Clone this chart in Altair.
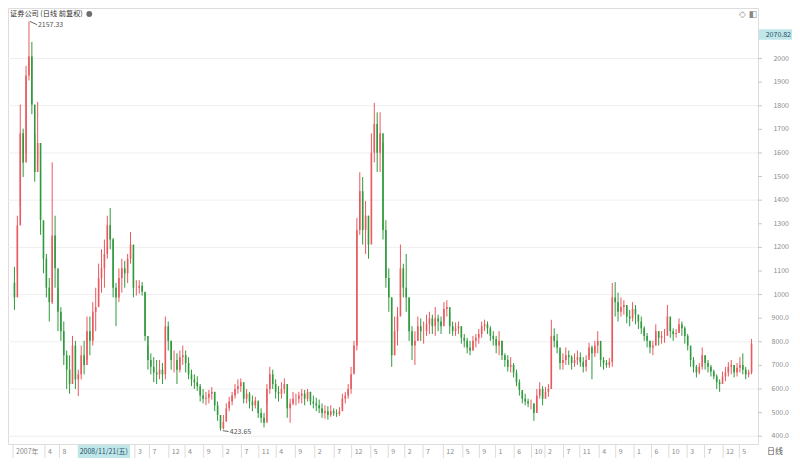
import altair as alt
import pandas as pd

title_text = "证券公司 (日线 前复权)"
open_first = 1050

high = [1117, 1334, 1805, 1703, 1969, 2157.33, 2070, 1683, 1816, 1539, 1294, 1172, 1070, 1560, 1334, 1029, 947,
        886, 763, 743, 825, 804, 682, 784, 804, 907, 907, 968, 1029, 1131, 1192, 1233, 1334, 1367, 1240, 1049, 1111,
        1152, 1143, 1172, 1265, 1172, 1061, 1061, 1053, 1008, 784, 751, 735, 723,
        723, 710, 907, 886, 804, 763, 751, 763, 784, 763, 735, 682, 662, 654, 621, 600, 588, 596, 608, 588, 547, 478,
        490, 539, 567, 588, 621, 641, 645, 612, 600, 588, 572, 567, 539, 518, 498, 621, 694, 682, 641, 612, 629, 645,
        600, 559, 588, 580, 588, 600, 596, 600, 588, 572, 563, 555, 539, 531, 527, 531, 518, 514, 523, 580, 588, 621, 694,
        804, 1325, 1518, 1498, 1397, 1334, 1683, 1812, 1772, 1772, 1642, 1315, 1111, 988, 907, 947, 1212, 1131, 1172,
        988, 866, 845, 907, 899, 886, 915, 927, 915, 947, 915, 907, 968, 976,
        927, 886, 882, 886, 866, 833, 817, 804, 825, 833, 854, 886, 894, 886, 866, 845, 825, 845, 804, 751, 743, 735,
        710, 682, 641, 588, 580, 559, 555, 539, 600, 629, 612, 608, 621, 893, 857, 833, 763, 751, 776, 763, 743, 751,
        763, 755, 735, 743, 796, 784, 804, 845, 763,
        735, 723, 731, 1049, 1053, 1008, 988, 976, 947, 935, 968, 956, 915, 907, 866, 837, 804, 804, 874, 845, 845, 854,
        956, 886, 857, 854, 899, 886, 866, 833, 751, 735, 702, 710, 776, 743, 723, 702, 682, 662, 641, 674, 694, 714,
        723, 702, 710, 735, 751, 694, 682, 812]

low = [935, 1090, 1376, 1498, 1601, 1907, 1764, 1478, 1560, 1253, 1090, 988, 886, 960, 1029, 845, 804,
       702, 600, 580, 641, 600, 570, 641, 662, 723, 743, 784, 845, 968, 1008, 1029, 1152, 1192, 988, 866, 968, 1008,
       1029, 1049, 1131, 988, 996, 1004, 996, 804, 682, 662, 629, 621,
       641, 621, 641, 763, 682, 670, 621, 670, 702, 670, 641, 612, 600, 592, 547, 539, 531, 539, 555, 506, 465, 423.65,
       429, 465, 506, 531, 559, 580, 588, 539, 539, 518, 506, 518, 478, 457, 437, 539, 580, 600, 559, 547, 559, 580,
       478, 457, 531, 531, 539, 539, 531, 547, 531, 518, 506, 498, 478, 474, 470, 482, 486, 482, 486, 518, 539, 559, 580,
       670, 763, 1253, 1212, 1172, 1152, 1253, 1560, 1519, 1519, 1233, 1029, 927, 694, 743, 784, 988, 988, 927, 804,
       723, 702, 804, 804, 792, 825, 833, 833, 825, 845, 833, 886, 907,
       833, 825, 825, 833, 792, 776, 751, 743, 763, 776, 792, 817, 845, 833, 804, 784, 751, 743, 723, 694, 674, 670,
       649, 612, 572, 539, 531, 523, 514, 465, 506, 559, 531, 559, 567, 600, 776, 751, 682, 682, 702, 702, 682, 694,
       702, 694, 670, 674, 735, 641, 735, 751, 694,
       682, 690, 690, 694, 907, 886, 907, 915, 878, 866, 886, 874, 854, 833, 804, 776, 751, 743, 784, 784, 792, 796,
       845, 817, 804, 817, 841, 825, 792, 763, 694, 670, 649, 662, 682, 682, 670, 653, 641, 600, 588, 621, 633, 653,
       662, 649, 653, 670, 662, 641, 649, 662]

close = [988, 1293, 1683, 1560, 1928, 2009, 1805, 1519, 1642, 1315, 1152, 1029, 968, 1250, 1111, 927, 845,
         743, 682, 621, 784, 641, 662, 743, 702, 845, 804, 927, 947, 1070, 1111, 1172, 1294, 1233, 1029, 988, 1070,
         1111, 1090, 1152, 1212, 1029, 1029, 1037, 1012, 825, 723, 694, 670, 662,
         682, 662, 866, 804, 723, 723, 682, 735, 743, 710, 662, 641, 629, 612, 572, 559, 563, 580, 588, 531, 490, 433,
         461, 518, 547, 572, 600, 612, 629, 559, 580, 547, 531, 551, 498, 478, 457, 600, 662, 621, 588, 580, 600, 621,
         518, 539, 559, 559, 572, 580, 559, 588, 547, 539, 531, 518, 498, 506, 490, 506, 498, 494, 506, 559, 572, 600, 662,
         784, 1274, 1438, 1274, 1334, 1212, 1601, 1723, 1601, 1683, 1274, 1070, 988, 743, 845, 907, 1111, 1029, 988,
         845, 784, 804, 866, 845, 845, 874, 899, 866, 899, 886, 866, 939, 947,
         866, 845, 857, 866, 817, 804, 776, 763, 804, 817, 833, 866, 874, 857, 825, 812, 784, 804, 743, 723, 694, 702,
         670, 629, 596, 559, 547, 539, 539, 498, 572, 600, 559, 588, 600, 825, 804, 776, 710, 723, 743, 735, 710, 723,
         735, 714, 694, 723, 776, 751, 784, 804, 723,
         710, 702, 714, 988, 968, 927, 947, 956, 907, 899, 939, 915, 886, 857, 825, 804, 776, 784, 845, 817, 825, 825,
         907, 845, 833, 837, 874, 857, 825, 784, 723, 694, 670, 694, 743, 710, 694, 674, 653, 629, 621, 653, 670, 694,
         702, 670, 690, 702, 682, 662, 670, 792]

y_ticks = [400, 500, 600, 700, 800, 900, 1000, 1100, 1200, 1300, 1400, 1500, 1600, 1700, 1800, 1900, 2000]
grid_values = [400, 600, 800, 1000, 1200, 1400, 1600, 1800, 2000]

x_sep = [0, 11, 16, 42, 47, 53.7, 59.3, 65.7, 72.3, 78.7, 84.7, 90.7, 97.3, 104, 110.7, 116.7, 123.3, 129.3,
         135, 141.3, 148.3, 155, 160.7, 166.3, 172.7, 178.7, 183.3, 189.7, 195.3, 202, 207.7, 214, 220, 226,
         232.3, 238.3, 244.7, 250.3]
x_lab = ["2007年", "4", "8", "3", "7", "12", "4", "9", "2", "7", "11", "4", "9", "2", "7", "12", "5", "9", "2",
         "7", "12", "5", "9", "1", "6", "10", "2", "7", "11", "4", "9", "1", "6", "10", "3", "7", "12", "5"]

peak_value = 2157.33
low_value = 423.65
cursor_price = "2070.82"
cursor_date = "2008/11/21(五)"
cursor_date_span = [22.3, 40.3]

RED = "#e85a5f"
GREEN = "#2f9a3c"
FONT = "Noto Sans CJK SC"

W, H = 750, 436
RW, BH = 34, 14
sx = W / 766.0
sy = H / 452.0

N = len(close)
assert len(high) == N and len(low) == N
opens = [open_first] + close[:-1]
df = pd.DataFrame({
    "x": [i + 0.5 for i in range(N)],
    "open": opens, "close": close, "high": high, "low": low,
})
df["dir"] = ["up" if c >= o else "down" for o, c in zip(opens, close)]

xs = alt.Scale(domain=[0, N], nice=False, zero=False)
ys = alt.Scale(domain=[367, 2214], nice=False, zero=False)
col = alt.Color("dir:N", scale=alt.Scale(domain=["up", "down"], range=[RED, GREEN]), legend=None)

grid = alt.Chart(pd.DataFrame({"v": grid_values})).mark_rule(color="#efefef", strokeWidth=1).encode(
    y=alt.Y("v:Q", scale=ys, axis=None)
)

wick = alt.Chart(df).mark_rule(strokeWidth=1).encode(
    x=alt.X("x:Q", scale=xs, axis=None),
    y=alt.Y("low:Q", scale=ys, axis=None),
    y2="high:Q",
    color=col,
)

body = alt.Chart(df).mark_bar(size=1.6).encode(
    x=alt.X("x:Q", scale=xs, axis=None),
    y=alt.Y("open:Q", scale=ys, axis=None),
    y2="close:Q",
    color=col,
)

# right price axis: ticks and labels
ytick_df = pd.DataFrame({
    "v": y_ticks,
    "t": [f"{v:d}" if v >= 1000 else f"{v:.1f}" for v in y_ticks],
})
ytick_marks = alt.Chart(ytick_df).mark_rule(color="#c8c8c8", strokeWidth=1).encode(
    y=alt.Y("v:Q", scale=ys, axis=None), x=alt.value(W), x2=alt.value(W + 4)
)
ytick_labels = alt.Chart(ytick_df).mark_text(align="right", baseline="middle", fontSize=7, color="#8c8c8c",
                                             font=FONT).encode(
    y=alt.Y("v:Q", scale=ys, axis=None), x=alt.value(W + RW - 3), text="t:N"
)

sep_df = pd.DataFrame({"p": x_sep, "t": x_lab})
seps = alt.Chart(sep_df).mark_rule(color="#dcdcdc", strokeWidth=1).encode(
    x=alt.X("p:Q", scale=xs, axis=None), y=alt.value(H), y2=alt.value(H + BH)
)
labs = alt.Chart(sep_df).mark_text(align="left", baseline="middle", dx=3, fontSize=7, color="#8c8c8c",
                                   font=FONT).encode(
    x=alt.X("p:Q", scale=xs, axis=None), y=alt.value(H + 7.5), text="t:N"
)

date_df = pd.DataFrame({"a": [cursor_date_span[0]], "b": [cursor_date_span[1]],
                        "m": [(cursor_date_span[0] + cursor_date_span[1]) / 2], "t": [cursor_date]})
date_box = alt.Chart(date_df).mark_rect(color="#bfe6e9").encode(
    x=alt.X("a:Q", scale=xs, axis=None), x2="b:Q", y=alt.value(H + 1), y2=alt.value(H + BH)
)
date_txt = alt.Chart(date_df).mark_text(align="center", baseline="middle", fontSize=7, color="#2a4f66",
                                        font=FONT).encode(
    x=alt.X("m:Q", scale=xs, axis=None), y=alt.value(H + 7.5), text="t:N"
)

price_df = pd.DataFrame({"t": [cursor_price]})
price_box = alt.Chart(price_df).mark_rect(color="#bfe6e9").encode(
    x=alt.value(W + 1), x2=alt.value(W + RW), y=alt.value(22 * sy), y2=alt.value(33 * sy)
)
price_txt = alt.Chart(price_df).mark_text(align="right", baseline="middle", fontSize=7, color="#2a4f66",
                                          font=FONT).encode(
    x=alt.value(W + RW - 1), y=alt.value(27.5 * sy), text="t:N"
)

day_df = pd.DataFrame({"t": ["日线"]})
day_txt = alt.Chart(day_df).mark_text(align="center", baseline="middle", fontSize=8, color="#555555",
                                      font=FONT).encode(
    x=alt.value(W + RW / 2), y=alt.value(H + 7.5), text="t:N"
)

title_df = pd.DataFrame({"t": [title_text]})
title = alt.Chart(title_df).mark_text(align="left", baseline="middle", fontSize=7.2, color="#333333",
                                      font=FONT).encode(
    x=alt.value(2), y=alt.value(6), text="t:N"
)
icon_df = pd.DataFrame({"k": [1]})
icon = alt.Chart(icon_df).mark_point(filled=True, size=34, color="#6e6e6e", opacity=1).encode(
    x=alt.value(83 * sx), y=alt.value(6)
)
icons_df = pd.DataFrame({"t": ["◇", "◧"], "px": [750 * sx, 761 * sx]})
icons = alt.Chart(icons_df).mark_text(align="center", baseline="middle", fontSize=9, color="#888888",
                                      font="DejaVu Sans").encode(
    x=alt.X("px:Q", scale=None, axis=None), y=alt.value(6), text="t:N"
)

ann_df = pd.DataFrame({
    "x0": [5.8, 72.3], "v0": [peak_value, low_value],
    "x1": [8.3, 74.3], "v1": [peak_value - 14, low_value - 4],
    "tx": [8.6, 74.7], "t": [f"{peak_value:.2f}", f"{low_value:.2f}"],
})
ann_line = alt.Chart(ann_df).mark_rule(color="#666666", strokeWidth=1).encode(
    x=alt.X("x0:Q", scale=xs, axis=None), y=alt.Y("v0:Q", scale=ys, axis=None), x2="x1:Q", y2="v1:Q"
)
ann_txt = alt.Chart(ann_df).mark_text(align="left", baseline="middle", fontSize=7, color="#555555",
                                      font=FONT).encode(
    x=alt.X("tx:Q", scale=xs, axis=None), y=alt.Y("v1:Q", scale=ys, axis=None), text="t:N"
)

chart = alt.layer(
    grid, wick, body, ytick_marks, ytick_labels, seps, labs, date_box, date_txt, price_box, price_txt, day_txt,
    title, icon, icons, ann_line, ann_txt
).properties(
    width=W, height=H,
    autosize=alt.AutoSizeParams(type="none"),
    padding={"left": 0, "top": 0, "right": RW, "bottom": BH},
    background="white",
).configure_view(stroke="#cfcfcf", strokeWidth=1).configure(font=FONT)

chart.save("out.html", embed_options={"renderer": "svg", "actions": False})
